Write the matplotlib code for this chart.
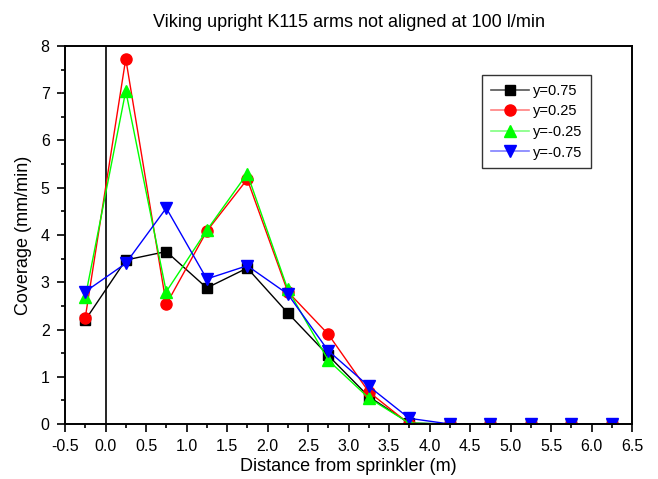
import matplotlib
matplotlib.use('Agg')
from matplotlib import pyplot
from matplotlib.lines import Line2D
from matplotlib.ticker import MultipleLocator

pyplot.rcParams['font.family'] = ['Liberation Sans', 'DejaVu Sans']

distance = [-0.25, 0.25, 0.75, 1.25, 1.75, 2.25, 2.75, 3.25, 3.75, 4.25, 4.75, 5.25, 5.75, 6.25]
y_075 = [2.2, 3.47, 3.65, 2.88, 3.3, 2.35, 1.45, 0.58, 0.02, 0.0, 0.0, 0.0, 0.0, 0.0]
y_025 = [2.25, 7.73, 2.53, 4.08, 5.18, 2.8, 1.9, 0.68, 0.0, 0.0, 0.0, 0.0, 0.0, 0.0]
y_m025 = [2.68, 7.05, 2.8, 4.1, 5.3, 2.85, 1.35, 0.55, 0.02, 0.0, 0.0, 0.0, 0.0, 0.0]
y_m075 = [2.8, 3.4, 4.57, 3.07, 3.35, 2.75, 1.55, 0.8, 0.12, 0.0, 0.0, 0.0, 0.0, 0.0]

fig = pyplot.figure(figsize=(6.58, 4.79), dpi=100)
ax = fig.add_axes([0.0988, 0.1148, 0.8617, 0.7892])

ax.axvline(0, color='black', linewidth=1.2, zorder=1)

series = [
    (y_075, 'black', '#555555', 's', 7.5, 'y=0.75'),
    (y_025, 'red', '#ff8080', 'o', 8, 'y=0.25'),
    (y_m025, '#00ff00', '#80ff80', '^', 8.5, 'y=-0.25'),
    (y_m075, 'blue', '#8080ff', 'v', 8.5, 'y=-0.75'),
]
handles = []
for vals, col, light, mk, ms, lab in series:
    ax.plot(distance, vals, color=col, marker=mk, markersize=ms, linewidth=1)
    # legend shows a paler line behind the marker
    handles.append(Line2D([], [], color=light, linewidth=1.2, marker=mk, markersize=ms,
                          markerfacecolor=col, markeredgecolor=col, label=lab))

ax.set_xlim(-0.5, 6.5)
ax.set_ylim(0, 8)
ax.xaxis.set_major_locator(MultipleLocator(0.5))
ax.xaxis.set_minor_locator(MultipleLocator(0.25))
ax.yaxis.set_major_locator(MultipleLocator(1))
ax.yaxis.set_minor_locator(MultipleLocator(0.5))
ax.xaxis.set_major_formatter(matplotlib.ticker.FormatStrFormatter('%.1f'))
ax.tick_params(which='major', direction='out', length=6, width=1.2, labelsize=11.5, pad=5,
               top=False, right=False)
ax.tick_params(which='minor', direction='out', length=3, width=1.2, top=False, right=False)
for s in ax.spines.values():
    s.set_linewidth(1.4)

ax.set_xlabel('Distance from sprinkler (m)', fontsize=13, labelpad=3)
ax.set_ylabel('Coverage (mm/min)', fontsize=13, labelpad=6)
ax.set_title('Viking upright K115 arms not aligned at 100 l/min', fontsize=13, pad=14)

leg = ax.legend(handles=handles, loc='upper right', bbox_to_anchor=(0.928, 0.923),
                borderaxespad=0, fontsize=10.5, frameon=True, fancybox=False,
                edgecolor='black', handlelength=2.6, handletextpad=0.3,
                borderpad=0.6, labelspacing=0.45)
leg.get_frame().set_linewidth(1)

pyplot.savefig('out.png', dpi=100)
